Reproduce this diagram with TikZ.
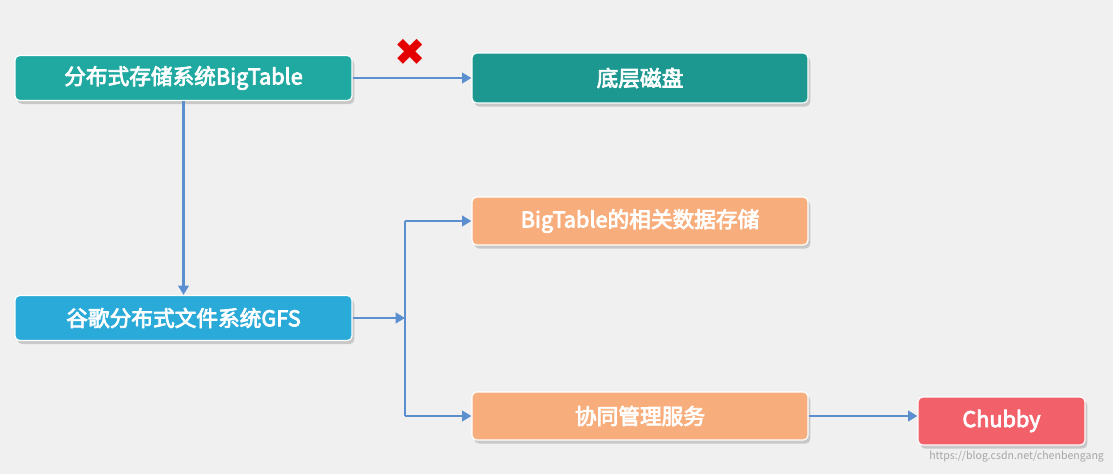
\documentclass[tikz,border=0pt]{standalone}
\usepackage{fontspec}
\setmainfont{Noto Sans CJK SC}[AutoFakeBold=3.5]
\newfontfamily\symfont{DejaVu Sans}
\usetikzlibrary{arrows.meta,shadows}
\definecolor{bg}{HTML}{F0F0F0}
\definecolor{teal1}{HTML}{1FA9A1}
\definecolor{cyan1}{HTML}{2AAAD8}
\definecolor{orng}{HTML}{F8AE7C}
\definecolor{redb}{HTML}{F2606A}
\definecolor{ln}{HTML}{5B8FD0}
\tikzset{
 box/.style={rounded corners=4pt, draw=white, line width=1pt, text=white, font=\bfseries\fontsize{18.5}{20}\selectfont, inner sep=0pt, drop shadow={shadow xshift=2pt,shadow yshift=-3pt,opacity=0.35}},
 conn/.style={ln, line width=2.2pt, -{Triangle[length=8pt,width=9pt]}},
 plain/.style={ln, line width=2.2pt}
}
\begin{document}
\begin{tikzpicture}[x=0.03cm,y=-0.03cm]
\fill[bg] (0,0) rectangle (1113,474);
\useasboundingbox (0,0) rectangle (1113,474);
\node[box, fill=teal1, minimum width=337*0.03cm, minimum height=45*0.03cm] (bt) at (183.5,78) {分布式存储系统BigTable};
\node[box, fill=teal1!90!black, minimum width=336*0.03cm, minimum height=50*0.03cm] (disk) at (640,78) {底层磁盘};
\node[box, fill=cyan1, minimum width=337*0.03cm, minimum height=45*0.03cm] (gfs) at (183.5,318) {谷歌分布式文件系统GFS};
\node[box, fill=orng, minimum width=336*0.03cm, minimum height=48*0.03cm] (data) at (640,221) {BigTable的相关数据存储};
\node[box, fill=orng, minimum width=336*0.03cm, minimum height=48*0.03cm] (coop) at (640,416) {协同管理服务};
\node[box, fill=redb, minimum width=167*0.03cm, minimum height=48*0.03cm] (chub) at (1001.5,421) {Chubby};
\draw[conn] (bt.east) -- (disk.west);
\draw[conn] (bt.south) -- (gfs.north);
\coordinate (jn) at (405,318);
\draw[conn] (gfs.east) -- (jn);
\draw[plain] (data.west -| jn) -- (coop.west -| jn);
\draw[conn] (data.west -| jn) -- (data.west);
\draw[conn] (coop.west -| jn) -- (coop.west);
\draw[conn] (coop.east) -- (coop.east -| chub.west);
\node[red!90!black, font=\symfont\fontsize{32}{32}\selectfont] (x) at (410,52) {✖};
\node[gray!70, font=\fontsize{9}{10}\selectfont, anchor=east] (wm) at (1108,457) {https://blog.csdn.net/chenbengang};
\end{tikzpicture}
\end{document}
